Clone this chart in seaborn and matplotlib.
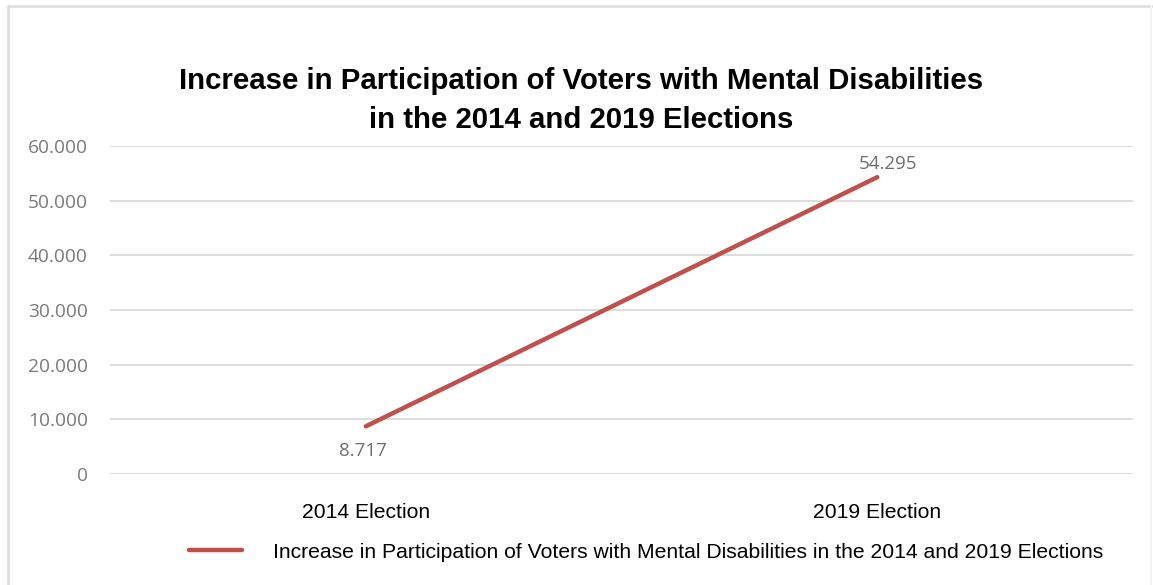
import matplotlib
matplotlib.use("Agg")
import matplotlib.pyplot as plt
import seaborn as sns
import pandas as pd
from matplotlib.lines import Line2D

categories = ["2014 Election", "2019 Election"]
values = [8717, 54295]
value_labels = ["8.717", "54.295"]
yticks = [0, 10000, 20000, 30000, 40000, 50000, 60000]
ytick_labels = ["0", "10.000", "20.000", "30.000", "40.000", "50.000", "60.000"]
series_name = "Increase in Participation of Voters with Mental Disabilities in the 2014 and 2019 Elections"
title = "Increase in Participation of Voters with Mental Disabilities\nin the 2014 and 2019 Elections"

sns.set_theme(style="white")
plt.rcParams['font.family'] = ['Liberation Sans', 'DejaVu Sans']
plt.rcParams['text.color'] = 'black'

df = pd.DataFrame({"Election": categories, "Voters": values, "Series": series_name})

fig = plt.figure(figsize=(11.53, 5.85), dpi=100)
ax = fig.add_axes([110/1153, 1-474/585, (1133-110)/1153, (474-146)/585])

sns.lineplot(data=df, x="Election", y="Voters", hue="Series", palette=["#C0504D"],
             linewidth=3.2, ax=ax, legend=False, solid_capstyle="round")

ax.set_xlim(-0.5, 1.5)
ax.set_ylim(0, 60000)
ax.set_yticks(yticks)
ax.set_yticklabels(ytick_labels, fontfamily="Open Sans", color="#7a7a7a", fontsize=13.8)
ax.set_xticks(range(len(categories)))
ax.set_xticklabels(categories, fontsize=15.2, color="#000000")
ax.tick_params(axis="y", length=0, pad=16)
ax.tick_params(axis="x", length=0, pad=21)
ax.set_xlabel("")
ax.set_ylabel("")
ax.grid(axis="y", color="#DADADA", linewidth=1.3)
ax.grid(axis="x", visible=False)
for s in ax.spines.values():
    s.set_visible(False)

# data labels
ax.annotate(value_labels[0], (0, values[0]), xytext=(-2, -11), textcoords="offset points",
            ha="center", va="top", fontfamily="Open Sans", fontsize=13.5, color="#6e6e6e")
ax.annotate(value_labels[1], (1, values[1]), xytext=(8, 3), textcoords="offset points",
            ha="center", va="bottom", fontfamily="Open Sans", fontsize=13.5, color="#6e6e6e")

fig.text(581/1153, 1-100/585, title, ha="center", va="center", fontsize=21.2,
         fontweight="bold", linespacing=1.5, color="black")

# legend
handle = Line2D([], [], color="#C0504D", linewidth=3.2, solid_capstyle="round")
fig.legend([handle], [series_name], loc="center left", bbox_to_anchor=(170/1153, 1-552/585),
           frameon=False, fontsize=15.2, handlelength=2.5, handletextpad=1.5)

# chart-area border (top and left, faint right)
fig.add_artist(Line2D([8/1153, 1.0], [1-6/585, 1-6/585], transform=fig.transFigure,
                      color="#DCDCDC", linewidth=1.8))
fig.add_artist(Line2D([8/1153, 8/1153], [0, 1-6/585], transform=fig.transFigure,
                      color="#DCDCDC", linewidth=1.8))
fig.add_artist(Line2D([1151/1153, 1151/1153], [0, 1-6/585], transform=fig.transFigure,
                      color="#F2F2F2", linewidth=1.5))

fig.savefig("out.png", dpi=100)
